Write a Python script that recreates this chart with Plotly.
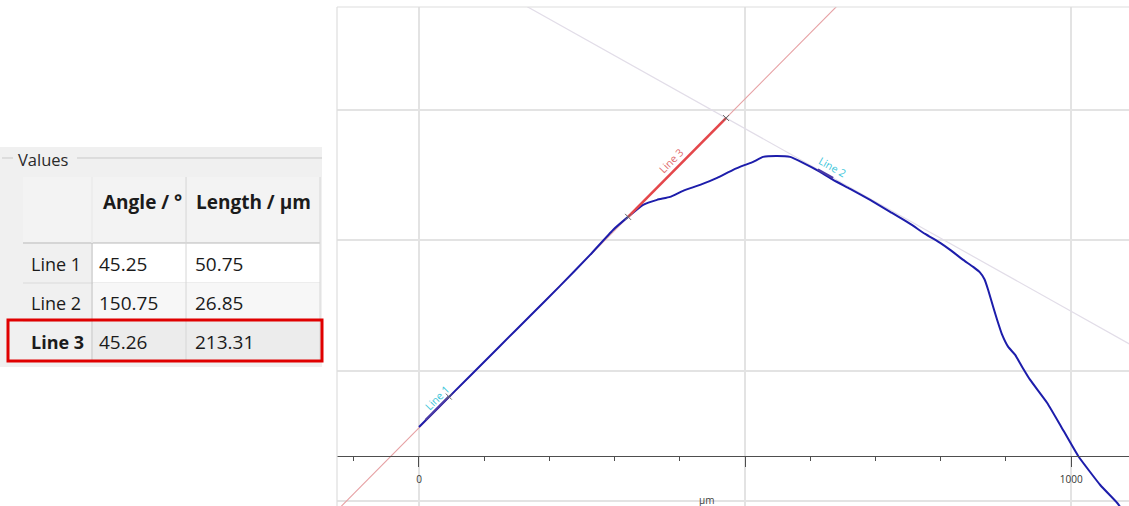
import math
import plotly.graph_objects as go

W, H = 1129, 506

# Measured surface profile (µm)
profile_x = [0.0, 32.2, 78.2, 124.2, 170.2, 216.3, 262.3, 297.5, 320.6, 343.6,
             365.0, 385.0, 404.9, 431.0, 457.1, 481.6, 500.0, 512.3, 527.6, 549.1,
             569.0, 588.9, 615.0, 635.0, 661.0, 691.7, 722.4, 753.1, 776.1, 799.1,
             814.4, 834.4, 849.7, 860.0, 867.0, 872.7, 880.4, 886.5, 894.2, 903.4,
             914.1, 924.8, 937.1, 963.2, 983.1, 1010.7, 1044.5, 1070.6, 1078.2]
profile_y = [113.5, 145.7, 191.7, 237.7, 283.7, 329.8, 377.3, 415.6, 435.6, 454.0,
             461.7, 466.3, 475.5, 484.7, 495.4, 507.7, 515.3, 519.9, 527.6, 529.1,
             527.6, 518.4, 504.6, 492.3, 478.5, 461.7, 443.3, 424.8, 409.5, 395.7,
             385.0, 369.6, 358.9, 350.5, 340.0, 323.6, 297.5, 277.6, 254.6, 236.2,
             223.9, 205.5, 185.6, 150.3, 116.6, 69.0, 24.5, -3.1, -13.8]

# Measuring lines: name, angle (°), length (µm) and start point (µm)
line_names = ["Line 1", "Line 2", "Line 3"]
line_angles = [45.25, 150.75, 45.26]
line_lengths = [50.75, 26.85, 213.31]
line_x0 = [10.0, 635.0, 320.6]
line_y0 = [124.0, 495.2, 435.6]

# Axis ticks
x_major_ticks = [0, 500, 1000]
x_major_labels = ["0", "", "1000"]
x_minor_ticks = [-100, 100, 200, 300, 400, 600, 700, 800, 900]
y_grid_ticks = [0, 200, 400, 600]
x_range = [-125.7, 1088.6]
y_range = [-7.7, 757.4]

FONT = "Open Sans"
BLUE = "#1d1dab"
RED = "#e4474b"
CYAN = "#3cc6da"


def px(x):
    return x / W


def py(y):
    return (H - y) / H


def segment(i):
    a = math.radians(line_angles[i])
    x0, y0 = line_x0[i], line_y0[i]
    return (x0, x0 + line_lengths[i] * math.cos(a)), (y0, y0 + line_lengths[i] * math.sin(a))


def extended(i, reach=3000):
    a = math.radians(line_angles[i])
    x0, y0 = line_x0[i], line_y0[i]
    return ([x0 - reach * math.cos(a), x0 + reach * math.cos(a)],
            [y0 - reach * math.sin(a), y0 + reach * math.sin(a)])


def intersect(i, j):
    ai, aj = math.radians(line_angles[i]), math.radians(line_angles[j])
    dxi, dyi = math.cos(ai), math.sin(ai)
    dxj, dyj = math.cos(aj), math.sin(aj)
    rx, ry = line_x0[j] - line_x0[i], line_y0[j] - line_y0[i]
    den = dxi * (-dyj) - dyi * (-dxj)
    t = (rx * (-dyj) - ry * (-dxj)) / den
    return line_x0[i] + t * dxi, line_y0[i] + t * dyi


fig = go.Figure()

# construction lines extended across the plot
ex, ey = extended(1)
fig.add_trace(go.Scatter(x=ex, y=ey, mode="lines", line=dict(color="#e2dde8", width=1.2),
                         hoverinfo="skip", showlegend=False))
ex, ey = extended(2)
fig.add_trace(go.Scatter(x=ex, y=ey, mode="lines", line=dict(color="#e6a0a3", width=1.1),
                         hoverinfo="skip", showlegend=False))

# profile
fig.add_trace(go.Scatter(x=profile_x, y=profile_y, mode="lines",
                         line=dict(color=BLUE, width=2, shape="spline", smoothing=0.4),
                         hoverinfo="skip", showlegend=False))

# measuring segments
seg_styles = [dict(color="#4a3aa6", width=2.2), dict(color="#4a3aa6", width=2.2),
              dict(color=RED, width=2.6)]
for i in range(3):
    sx, sy = segment(i)
    fig.add_trace(go.Scatter(x=sx, y=sy, mode="lines", line=seg_styles[i],
                             hoverinfo="skip", showlegend=False))

# end marks and intersection cross
ix, iy = intersect(2, 1)
mark_x = [segment(0)[0][1], segment(2)[0][0], ix]
mark_y = [segment(0)[1][1], segment(2)[1][0], iy]
fig.add_trace(go.Scatter(x=mark_x, y=mark_y, mode="markers",
                         marker=dict(symbol="x-thin", size=6, line=dict(color="#6a6a6a", width=1)),
                         hoverinfo="skip", showlegend=False))

# line labels
label_colors = [CYAN, CYAN, "#e06a6c"]
label_shift = [(0, 10), (7, 7), (-6, 6)]
for i in range(3):
    sx, sy = segment(i)
    ang = line_angles[i] if line_angles[i] <= 90 else line_angles[i] - 180
    fig.add_annotation(x=(sx[0] + sx[1]) / 2, y=(sy[0] + sy[1]) / 2, xref="x", yref="y",
                       text=line_names[i], showarrow=False, textangle=-ang,
                       xshift=label_shift[i][0], yshift=label_shift[i][1],
                       font=dict(family=FONT, size=10.5, color=label_colors[i]))

shapes = []
annotations = []


def rect(x0, y0, x1, y1, fill, line_color=None, lw=0):
    shapes.append(dict(type="rect", xref="paper", yref="paper",
                       x0=px(x0), x1=px(x1), y0=py(y1), y1=py(y0),
                       fillcolor=fill, line=dict(color=line_color or fill, width=lw),
                       layer="above"))


def hline(x0, x1, y, color, lw=1):
    shapes.append(dict(type="line", xref="paper", yref="paper",
                       x0=px(x0), x1=px(x1), y0=py(y), y1=py(y),
                       line=dict(color=color, width=lw), layer="above"))


def vline(x, y0, y1, color, lw=1):
    shapes.append(dict(type="line", xref="paper", yref="paper",
                       x0=px(x), x1=px(x), y0=py(y0), y1=py(y1),
                       line=dict(color=color, width=lw), layer="above"))


def text(x, y, s, bold=False, size=18, anchor="left", color="#1b1b1b"):
    annotations.append(dict(xref="paper", yref="paper", x=px(x), y=py(y),
                            text=f"<b>{s}</b>" if bold else s, showarrow=False,
                            xanchor=anchor, yanchor="middle",
                            font=dict(family=FONT, size=size, color=color)))


# plot frame (top and left)
hline(337, W, 7, "#dedede", 1.2)
vline(337, 7, H, "#dedede", 1.2)

# values panel
rect(0, 147, 322, 367, "#f0f0f0")
hline(2, 13, 158, "#c9c9c9", 1)
hline(77, 322, 158, "#c9c9c9", 1)
text(16, 160, "Values", size=16.5, color="#2a2a2a")

col_x = [23, 93, 187, 320]
row_y = [177, 243, 283, 321, 360]
row_fill = ["#ffffff", "#f7f7f7", "#ececec"]

# header
rect(col_x[0], row_y[0], col_x[1] - 1, row_y[1] - 1, "#f3f3f3")
rect(col_x[1], row_y[0], col_x[2] - 1, row_y[1] - 1, "#f3f3f3")
rect(col_x[2], row_y[0], col_x[3], row_y[1] - 1, "#f3f3f3")
text(101, 202, "Angle / °", bold=True, size=19)
text(194, 202, "Length / µm", bold=True, size=19)

# body
for r in range(3):
    rect(col_x[1], row_y[r + 1], col_x[3], row_y[r + 2], row_fill[r])
    yc = (row_y[r + 1] + row_y[r + 2]) / 2 + 1
    text(29, yc, line_names[r], bold=(r == 2))
    text(97, yc, f"{line_angles[r]:.2f}", size=19)
    text(193, yc, f"{line_lengths[r]:.2f}", size=19)
    if r < 2:
        hline(col_x[0], col_x[3], row_y[r + 2], "#dadada", 1)

hline(col_x[0], col_x[3], row_y[1], "#b9b9b9", 1.2)
vline(col_x[1] - 1, row_y[0], row_y[4], "#c4c4c4", 1)
vline(col_x[2] - 1, row_y[0], row_y[4], "#d6d6d6", 1)
vline(col_x[3], row_y[0], row_y[4], "#d6d6d6", 1)
vline(col_x[1] - 1, row_y[0], row_y[1], "#ffffff", 1)

# selected row highlight
shapes.append(dict(type="rect", xref="paper", yref="paper",
                   x0=px(8), x1=px(322), y0=py(361), y1=py(320),
                   line=dict(color="#e00000", width=3), fillcolor="rgba(0,0,0,0)",
                   layer="above"))

# axis title
annotations.append(dict(xref="paper", yref="paper", x=px(706), y=py(500), text="µm",
                        showarrow=False, xanchor="center", yanchor="middle",
                        font=dict(family=FONT, size=10, color="#444444")))

fig.update_layout(
    width=W, height=H,
    margin=dict(l=0, r=0, t=0, b=0),
    paper_bgcolor="white", plot_bgcolor="white",
    showlegend=False,
    shapes=shapes,
    xaxis=dict(domain=[337 / W, 1], range=x_range, anchor="free", position=50 / H,
               showline=True, linecolor="#4e4e4e", linewidth=1.3,
               ticks="outside", ticklen=10, tickwidth=1.2, tickcolor="#4e4e4e",
               tickvals=x_major_ticks, ticktext=x_major_labels, ticklabelstandoff=4,
               tickfont=dict(family=FONT, size=10, color="#333333"),
               showgrid=True, gridcolor="#e3e3e3", gridwidth=1.5, zeroline=False,
               minor=dict(tickvals=x_minor_ticks, ticks="outside", ticklen=4,
                          tickwidth=1.2, tickcolor="#4e4e4e", showgrid=False)),
    yaxis=dict(domain=[0, (H - 7) / H], range=y_range, tickvals=y_grid_ticks,
               showticklabels=False, ticks="", showgrid=True, gridcolor="#e3e3e3",
               gridwidth=1.5, zeroline=False, showline=False),
)
for a in annotations:
    fig.add_annotation(**a)

fig.write_html("out.html")
